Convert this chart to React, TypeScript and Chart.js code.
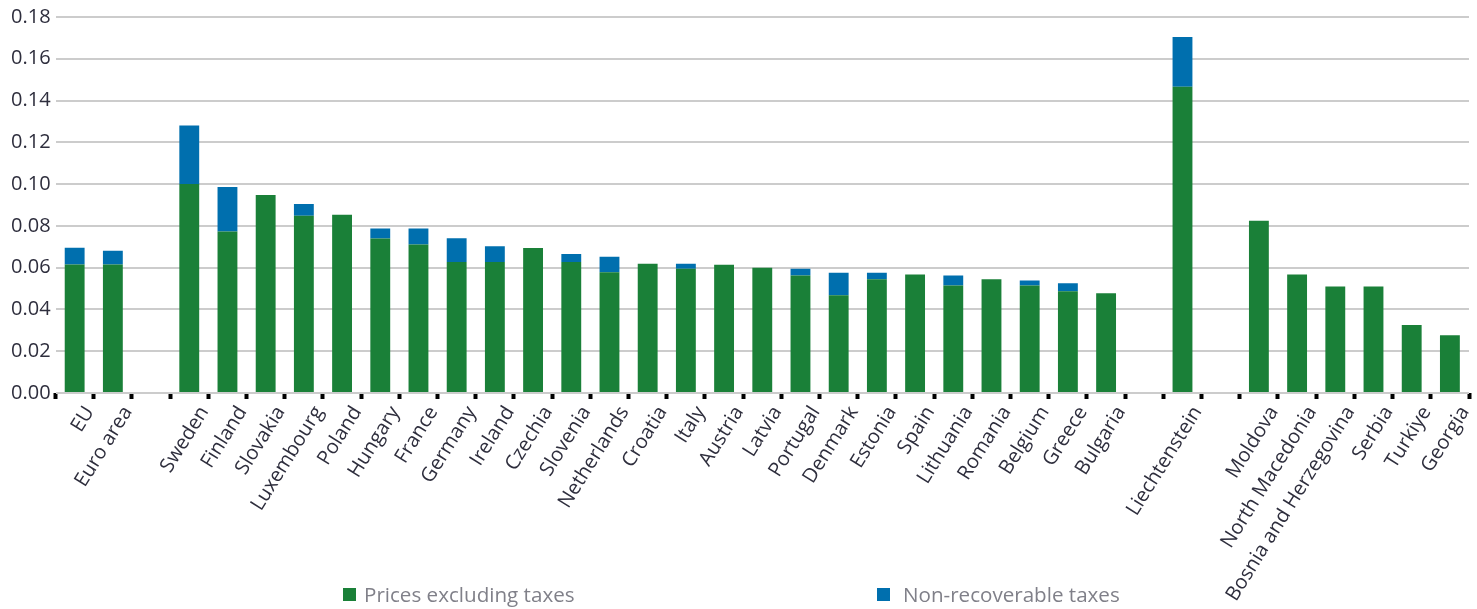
import React, { useEffect, useRef } from 'react';
import { Chart, registerables } from 'chart.js';

Chart.register(...registerables);

const categories = [
  'EU', 'Euro area', '',
  'Sweden', 'Finland', 'Slovakia', 'Luxembourg', 'Poland', 'Hungary', 'France', 'Germany',
  'Ireland', 'Czechia', 'Slovenia', 'Netherlands', 'Croatia', 'Italy', 'Austria', 'Latvia',
  'Portugal', 'Denmark', 'Estonia', 'Spain', 'Lithuania', 'Romania', 'Belgium', 'Greece', 'Bulgaria',
  '', 'Liechtenstein', '',
  'Moldova', 'North Macedonia', 'Bosnia and Herzegovina', 'Serbia', 'Turkiye', 'Georgia',
];

const pricesExcludingTaxes = [
  0.0615, 0.0615, null,
  0.1, 0.0773, 0.0948, 0.0849, 0.0853, 0.074, 0.0711, 0.0627,
  0.0627, 0.0694, 0.0627, 0.0578, 0.0619, 0.0595, 0.0614, 0.06,
  0.0562, 0.0468, 0.0544, 0.0567, 0.0515, 0.0544, 0.0515, 0.0487, 0.0477,
  null, 0.1466, null,
  0.0825, 0.0567, 0.051, 0.051, 0.0325, 0.0277,
];

const nonRecoverableTaxes = [
  0.008, 0.0066, null,
  0.028, 0.0213, 0, 0.0056, 0, 0.0047, 0.0076, 0.0114,
  0.0076, 0, 0.0038, 0.0074, 0, 0.0024, 0, 0,
  0.0033, 0.0108, 0.0032, 0, 0.0047, 0, 0.0024, 0.0038, 0,
  null, 0.0238, null,
  0, 0, 0, 0, 0, 0,
];

const seriesNames = ['Prices excluding taxes', 'Non-recoverable taxes'];
const seriesColors = ['#1a8038', '#006fae'];

const yMin = 0;
const yMax = 0.18;
const yStep = 0.02;

const WIDTH = 1477;
const HEIGHT = 609;

export default function App() {
  const ref = useRef<HTMLCanvasElement>(null);

  useEffect(() => {
    document.body.style.margin = '0';
    const canvas = ref.current;
    if (!canvas) return;
    const chart = new Chart(canvas, {
      type: 'bar',
      data: {
        labels: categories,
        datasets: [
          {
            label: seriesNames[0],
            data: pricesExcludingTaxes,
            backgroundColor: seriesColors[0],
            barPercentage: 0.52,
            categoryPercentage: 1,
          },
          {
            label: seriesNames[1],
            data: nonRecoverableTaxes,
            backgroundColor: seriesColors[1],
            barPercentage: 0.52,
            categoryPercentage: 1,
          },
        ],
      },
      options: {
        responsive: false,
        animation: false,
        layout: { padding: { left: 6, right: 8, top: 0, bottom: 0 } },
        plugins: {
          legend: { display: false },
          tooltip: { enabled: false },
        },
        scales: {
          x: {
            stacked: true,
            offset: true,
            afterFit: (scale: any) => {
              scale.height = 216;
            },
            grid: {
              display: true,
              offset: true,
              drawOnChartArea: false,
              drawTicks: true,
              tickLength: 6,
              tickWidth: 4,
              tickColor: '#000000',
            },
            border: { display: false },
            ticks: {
              autoSkip: false,
              minRotation: 58,
              maxRotation: 58,
              padding: 3,
              labelOffset: 15,
              color: '#2e2e3d',
              font: { family: 'Open Sans', size: 20 },
            },
          },
          y: {
            stacked: true,
            min: yMin,
            max: yMax,
            grid: { color: '#cccccc', lineWidth: 2, drawTicks: false },
            border: { display: false },
            ticks: {
              stepSize: yStep,
              padding: 5,
              color: '#2e2e3d',
              font: { family: 'Open Sans', size: 20 },
              callback: (v: any) => Number(v).toFixed(2),
            },
          },
        },
      },
    });
    return () => chart.destroy();
  }, []);

  const legendText: React.CSSProperties = {
    position: 'absolute',
    top: 584,
    fontFamily: 'Open Sans',
    fontSize: 20.6,
    lineHeight: '20px',
    color: '#808089',
    whiteSpace: 'nowrap',
  };
  const legendBox: React.CSSProperties = {
    position: 'absolute',
    top: 588,
    width: 13,
    height: 13,
  };

  return (
    <div style={{ position: 'relative', width: WIDTH, height: HEIGHT, background: '#ffffff' }}>
      <canvas ref={ref} width={WIDTH} height={HEIGHT} style={{ display: 'block' }} />
      <div style={{ ...legendBox, left: 343, background: seriesColors[0] }} />
      <div style={{ ...legendText, left: 364 }}>{seriesNames[0]}</div>
      <div style={{ ...legendBox, left: 877, background: seriesColors[1] }} />
      <div style={{ ...legendText, left: 903 }}>{seriesNames[1]}</div>
    </div>
  );
}
